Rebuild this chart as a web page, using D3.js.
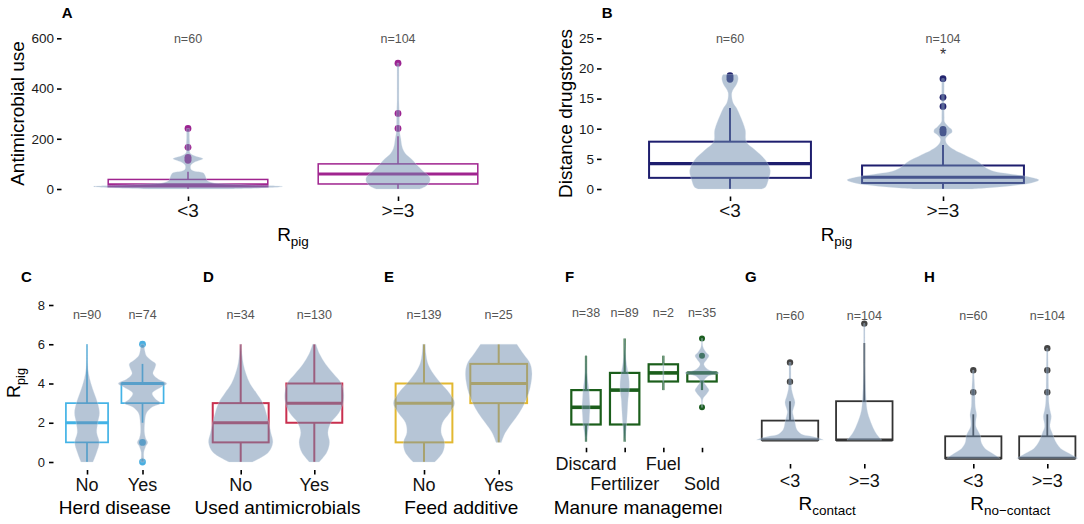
<!DOCTYPE html>
<html><head><meta charset="utf-8">
<script src="https://cdn.jsdelivr.net/npm/d3@7"></script>
<style>
body{margin:0;background:#fff}
svg{display:block}
text{font-family:"Liberation Sans",Arial,Helvetica,sans-serif}
</style>
</head><body>
<svg id="chart" width="1084" height="524"></svg>
<script>
// ================= DATA =================
const rpigGroups = ["<3", ">=3"];

// A: Antimicrobial use by Rpig
const amuCounts = [60, 104];
const amuBox = [[0, 9, 17, 38, 69], [0, 20, 60, 100, 210]];      // [lower whisker, Q1, median, Q3, upper whisker]
const amuOutliers = [[114, 120, 126, 166, 241], [241, 301, 501]];
const amuTicks = [0, 200, 400, 600];
const amuViolin = [
  [[0,0.42],[5,0.84],[10,1],[15,0.74],[20,0.42],[25,0.26],[35,0.2],[45,0.19],[55,0.18],[65,0.16],[72,0.06],[80,0.03],[95,0.03],[105,0.06],[115,0.13],[120,0.16],[125,0.13],[135,0.05],[145,0.02],[170,0.02],[200,0.015],[241,0.015]],
  [[0,0.23],[10,0.29],[25,0.33],[40,0.34],[55,0.32],[70,0.27],[85,0.23],[100,0.19],[120,0.14],[140,0.08],[160,0.05],[180,0.037],[200,0.03],[220,0.02],[250,0.016],[300,0.014],[350,0.01],[400,0.01],[450,0.01],[501,0.01]]
];

// B: Distance drugstores by Rpig
const distCounts = [60, 104];
const distBox = [[0, 1.85, 4.2, 7.85, 13.45], [0, 1.0, 1.95, 3.9, 7.3]];
const distOutliers = [[18.2, 18.5, 18.8], [9.3, 9.6, 9.9, 13.7, 15.2, 18.3]];
const distTicks = [0, 5, 10, 15, 20, 25];
const distSignif = ["", "*"];
const distSignifAt = 22.8;
const distViolin = [
  [[0,0.33],[0.3,0.37],[1.5,0.4],[3.1,0.42],[4.8,0.37],[6.5,0.26],[7.85,0.17],[9.8,0.16],[12,0.11],[13.4,0.07],[14.3,0.033],[16,0.02],[17.4,0.07],[18.2,0.085],[18.8,0.08],[19,0.07]],
  [[0,0.3],[0.5,0.7],[1,0.92],[1.5,1],[2,0.9],[2.5,0.7],[3,0.52],[3.5,0.45],[4,0.41],[4.7,0.35],[5.3,0.27],[6,0.18],[6.4,0.13],[7,0.07],[7.5,0.04],[8.3,0.027],[9,0.06],[9.4,0.094],[9.9,0.09],[10.3,0.06],[11.1,0.017],[12,0.013],[18.3,0.013]]
];

// Bottom row: Rpig by factor
const rpigTicks = [0, 2, 4, 6, 8];
const yesNo = ["No", "Yes"];

// C: Herd disease
const herdCounts = [90, 74];
const herdBox = [[0, 1, 2, 3, 6], [2, 3, 4, 4, 5]];
const herdOutliers = [[], [0, 1, 6]];
const herdViolin = [
  [[0,0.24],[0.5,0.39],[1,0.49],[1.5,0.39],[2,0.43],[2.5,0.5],[3,0.43],[3.5,0.29],[4,0.16],[4.5,0.066],[5,0.026],[6,0.013]],
  [[0,0.066],[0.25,0.053],[0.5,0.053],[0.8,0.13],[1,0.21],[1.2,0.13],[1.5,0.08],[2,0.09],[2.5,0.16],[2.8,0.39],[3,0.72],[3.2,0.53],[3.5,0.39],[3.8,0.72],[4,0.97],[4.2,0.66],[4.5,0.42],[4.8,0.5],[5,0.53],[5.2,0.33],[5.4,0.16],[5.7,0.09],[6,0.066]]
];

// D: Used antimicrobials
const usedCounts = [34, 130];
const usedBox = [[0, 1, 2, 3, 6], [0, 2, 3, 4, 6]];
const usedOutliers = [[], []];
const usedViolin = [
  [[0,0.35],[0.5,0.84],[1,0.97],[1.5,0.91],[2,0.85],[2.5,0.77],[3,0.67],[3.5,0.48],[4,0.28],[4.5,0.16],[5,0.08],[5.5,0.04],[6,0.02]],
  [[0,0.15],[0.5,0.38],[1,0.46],[1.5,0.41],[2,0.5],[2.5,0.74],[3,0.87],[3.5,0.89],[4,0.82],[4.5,0.58],[5,0.34],[5.5,0.16],[6,0.05]]
];

// E: Feed additive
const feedCounts = [139, 25];
const feedBox = [[0, 1, 3, 4, 6], [1, 3, 4, 5, 6]];
const feedOutliers = [[], []];
const feedViolin = [
  [[0,0.32],[0.5,0.56],[1,0.61],[1.5,0.51],[2,0.55],[2.5,0.76],[3,0.91],[3.5,0.76],[4,0.51],[4.5,0.28],[5,0.12],[5.5,0.06],[6,0.04]],
  [[1,0.08],[1.5,0.2],[2,0.4],[2.5,0.61],[3,0.77],[3.5,0.89],[4,0.96],[4.5,0.99],[5,0.94],[5.5,0.74],[6,0.54]]
];

// F: Manure management
const manureCats = ["Discard", "Fertilizer", "Fuel", "Sold"];
const manureCounts = [38, 89, 2, 35];
const manureBox = [[0, 1, 2, 3, 5], [0, 1, 3, 4, 6], [3, 3.5, 4, 4.5, 5], [3, 3.5, 4, 4, 4]];
const manureOutliers = [[], [], [], [2, 5, 6]];
const manureViolin = [
  [[0,0.03],[0.5,0.09],[1,0.17],[1.5,0.2],[2,0.23],[2.5,0.2],[3,0.17],[3.5,0.11],[4,0.06],[4.5,0.04],[5,0.03]],
  [[0,0.03],[1,0.11],[2,0.17],[2.5,0.2],[3,0.26],[3.5,0.26],[4,0.2],[4.5,0.11],[5,0.06],[5.5,0.035],[6,0.023]],
  [[3,0.02],[4,0.03],[5,0.02]],
  [[2,0.03],[2.5,0.06],[2.8,0.29],[3,0.4],[3.2,0.29],[3.5,0.11],[3.8,0.34],[4,0.98],[4.2,0.34],[4.5,0.11],[4.8,0.29],[5,0.4],[5.2,0.23],[5.5,0.06],[6,0.03]]
];

// G: R contact
const contactCounts = [60, 104];
const contactBox = [[0, 0, 0, 1, 2], [0, 0, 0, 2, 5]];
const contactOutliers = [[3, 4], [6]];
const contactViolin = [
  [[0,1],[0.1,0.85],[0.2,0.6],[0.3,0.35],[0.56,0.2],[0.9,0.15],[1.13,0.12],[1.45,0.08],[1.6,0.1],[1.94,0.15],[2.26,0.1],[2.6,0.05],[2.85,0.04],[3.2,0.03],[4,0.03]],
  [[0,0.52],[0.3,0.37],[0.65,0.26],[1.13,0.15],[1.6,0.08],[2.26,0.05],[3.06,0.03],[4,0.02],[5,0.02],[6,0.02]]
];

// H: R no-contact
const nocontactCounts = [60, 104];
const nocontactBox = [[0, 0, 0, 1, 2], [0, 0, 0, 1, 2]];
const nocontactOutliers = [[3, 4], [3, 4, 5]];
const nocontactViolin = [
  [[0,0.8],[0.1,0.7],[0.23,0.57],[0.45,0.35],[0.68,0.25],[0.9,0.22],[1,0.22],[1.14,0.18],[1.44,0.08],[1.74,0.08],[1.97,0.1],[2.35,0.06],[3,0.05],[3.56,0.03],[4,0.02]],
  [[0,0.92],[0.1,0.8],[0.23,0.65],[0.45,0.4],[0.68,0.28],[0.9,0.21],[1.14,0.15],[1.44,0.08],[1.9,0.12],[2.2,0.08],[2.5,0.05],[3,0.04],[4,0.03],[5,0.02]]
];

// ================= DRAWING =================
const svg = d3.select("#chart");
const FONT = '"Liberation Sans",Arial,Helvetica,sans-serif';
const VIOLIN_FILL = "#6d8cad";

function drawPanel(p) {
  const g = svg.append("g");
  const x = d3.scalePoint().domain(p.cats).range([p.x0, p.x1]);
  const step = (p.x1 - p.x0) / (p.cats.length - 1);
  const y = d3.scaleLinear().domain(p.yDomain).range(p.yRange);
  const bw = 0.38 * step;
  const vw = d3.scaleLinear().domain([0, 1]).range([0, 0.45 * step]);

  // y axis
  if (p.yTicks) {
    const ax = g.append("g").attr("transform", `translate(${p.axisX},0)`)
      .call(d3.axisLeft(y).tickValues(p.yTicks).tickSize(4.5).tickPadding(p.tickPad || 3));
    ax.select(".domain").remove();
    ax.selectAll(".tick line").attr("stroke", "#000").attr("stroke-width", 1.6);
    ax.selectAll(".tick text").attr("font-family", FONT).attr("font-size", p.yTickSize)
      .attr("fill", "#1a1a1a");
  }
  // x axis ticks
  const axx = g.append("g").attr("transform", `translate(0,${p.xAxisY})`)
    .call(d3.axisBottom(x).tickSize(4.5).tickFormat(""));
  axx.select(".domain").remove();
  axx.selectAll(".tick line").attr("stroke", "#000").attr("stroke-width", 1.6);

  // x tick labels (optionally dodged in rows)
  p.cats.forEach((c, i) => {
    const row = p.labelRows ? p.labelRows[i % p.labelRows.length] : p.labelY;
    g.append("text").attr("x", x(c)).attr("y", row).attr("text-anchor", "middle")
      .attr("font-size", p.xTickSize).attr("fill", "#111").text(c);
  });

  // boxplots
  p.cats.forEach((c, i) => {
    const [lo, q1, med, q3, hi] = p.box[i];
    const cx = x(c);
    const bg = g.append("g").attr("stroke", p.color).attr("fill", "none");
    bg.append("line").attr("x1", cx).attr("x2", cx).attr("y1", y(q3)).attr("y2", y(hi)).attr("stroke-width", p.lw);
    bg.append("line").attr("x1", cx).attr("x2", cx).attr("y1", y(q1)).attr("y2", y(lo)).attr("stroke-width", p.lw);
    bg.append("rect").attr("x", cx - bw).attr("width", 2 * bw)
      .attr("y", y(q3)).attr("height", Math.max(0, y(q1) - y(q3))).attr("stroke-width", p.lw);
    bg.append("line").attr("x1", cx - bw).attr("x2", cx + bw).attr("y1", y(med)).attr("y2", y(med)).attr("stroke-width", p.mlw);
    g.selectAll(null).data(p.out[i]).enter().append("circle")
      .attr("cx", cx).attr("cy", d => y(d)).attr("r", p.r).attr("fill", p.pointColor);
  });

  // violins drawn on top, translucent
  p.cats.forEach((c, i) => {
    const cx = x(c);
    const area = d3.area().curve(d3.curveCatmullRom.alpha(0.5))
      .y(d => y(d[0])).x0(d => cx - vw(d[1])).x1(d => cx + vw(d[1]));
    g.append("path").attr("d", area(p.violin[i])).attr("fill", VIOLIN_FILL)
      .attr("fill-opacity", 0.5).attr("stroke", "#dbe4ee").attr("stroke-width", 0.5).attr("stroke-opacity", 0.6);
  });

  // n labels
  p.cats.forEach((c, i) => {
    g.append("text").attr("x", x(c)).attr("y", y(p.nAt)).attr("dy", "0.36em")
      .attr("text-anchor", "middle").attr("font-size", 12.5).attr("fill", "#555")
      .text("n=" + p.counts[i]);
  });
  if (p.signif) {
    p.cats.forEach((c, i) => {
      if (p.signif[i]) g.append("text").attr("x", x(c)).attr("y", y(p.signifAt) + 8.5)
        .attr("text-anchor", "middle").attr("font-size", 16).attr("fill", "#333").text(p.signif[i]);
    });
  }

  // x title
  const tg = p.clipRight ? g.append("g").attr("clip-path", `url(#${p.letter}clip)`) : g;
  if (p.clipRight) {
    svg.append("clipPath").attr("id", p.letter + "clip").append("rect")
      .attr("x", p.x0 - 60).attr("y", 0).attr("width", p.clipRight - (p.x0 - 60)).attr("height", 524);
  }
  const xt = tg.append("text").attr("x", (p.x0 + p.x1) / 2).attr("y", p.titleY)
    .attr("text-anchor", "middle").attr("font-size", 19).attr("fill", "#000");
  xt.append("tspan").text(p.xTitle[0]);
  if (p.xTitle[1]) xt.append("tspan").attr("dy", 5).attr("font-size", 13.5).text(p.xTitle[1]);

  // y title
  if (p.yTitle) {
    const yt = g.append("text").attr("transform", `translate(${p.yTitleX},${p.yTitleY}) rotate(-90)`)
      .attr("text-anchor", "middle").attr("font-size", p.yTitleSize).attr("fill", "#000");
    yt.append("tspan").text(p.yTitle[0]);
    if (p.yTitle[1]) yt.append("tspan").attr("dy", 4.5).attr("font-size", p.yTitleSize * 0.7).text(p.yTitle[1]);
  }

  // panel letter
  g.append("text").attr("x", p.letterX).attr("y", p.letterY).attr("font-size", 15)
    .attr("font-weight", "bold").attr("fill", "#000").text(p.letter);
}

const topCommon = {
  yRange: [189, 38.3], xAxisY: 196.5, labelY: 216.8, xTickSize: 19, yTickSize: 13.5,
  titleY: 240.7, lw: 1.5, mlw: 3, r: 3.4, yTitleSize: 19, yTitleY: 113.5, letterY: 18.3
};
const botCommon = {
  yDomain: [0, 8], yRange: [462, 305], xAxisY: 470, labelY: 490.5, xTickSize: 18, yTickSize: 13,
  titleY: 513.5, lw: 1.7, mlw: 3, r: 3.4, nAt: 7.5, letterY: 281.5
};

drawPanel(Object.assign({}, topCommon, {
  letter: "A", letterX: 61.7, cats: rpigGroups, x0: 188, x1: 398,
  yDomain: [0, 600], yTicks: amuTicks, axisX: 61.5,
  box: amuBox, out: amuOutliers, violin: amuViolin, counts: amuCounts, nAt: 600,
  color: "#a0248f", pointColor: "#9b2391",
  xTitle: ["R", "pig"], yTitle: ["Antimicrobial use"], yTitleX: 24
}));
drawPanel(Object.assign({}, topCommon, {
  letter: "B", letterX: 601.7, cats: rpigGroups, x0: 730, x1: 943,
  yDomain: [0, 25], yTicks: distTicks, axisX: 601.5,
  box: distBox, out: distOutliers, violin: distViolin, counts: distCounts, nAt: 25,
  signif: distSignif, signifAt: distSignifAt, lw: 2, mlw: 3.2,
  color: "#1e1e6e", pointColor: "#22246e",
  xTitle: ["R", "pig"], yTitle: ["Distance drugstores"], yTitleX: 572
}));
drawPanel(Object.assign({}, botCommon, {
  letter: "C", letterX: 21, cats: yesNo, x0: 87, x1: 142.5,
  yTicks: rpigTicks, axisX: 53.5, tickPad: 4,
  box: herdBox, out: herdOutliers, violin: herdViolin, counts: herdCounts,
  color: "#43b3e6", pointColor: "#4aaee0",
  xTitle: ["Herd disease"], yTitle: ["R", "pig"], yTitleX: 20, yTitleY: 383, yTitleSize: 18
}));
drawPanel(Object.assign({}, botCommon, {
  letter: "D", letterX: 203, cats: yesNo, x0: 240.7, x1: 314.3,
  box: usedBox, out: usedOutliers, violin: usedViolin, counts: usedCounts,
  color: "#c9304f", pointColor: "#c9304f", lw: 2,
  xTitle: ["Used antimicrobials"]
}));
drawPanel(Object.assign({}, botCommon, {
  letter: "E", letterX: 384, cats: yesNo, x0: 424, x1: 498.7,
  box: feedBox, out: feedOutliers, violin: feedViolin, counts: feedCounts,
  color: "#e2b831", pointColor: "#e2b831", lw: 2,
  xTitle: ["Feed additive"]
}));
drawPanel(Object.assign({}, botCommon, {
  letter: "F", letterX: 565, cats: manureCats, x0: 586, x1: 702,
  yRange: [441.7, 304.1], xAxisY: 447.8, labelRows: [469.5, 490],
  box: manureBox, out: manureOutliers, violin: manureViolin, counts: manureCounts,
  color: "#1b5e1b", pointColor: "#1b5e20", lw: 2.2, mlw: 3.6, r: 3,
  xTitle: ["Manure management"], clipRight: 721.5
}));
drawPanel(Object.assign({}, botCommon, {
  letter: "G", letterX: 745, cats: rpigGroups, x0: 790, x1: 864.3,
  yDomain: [0, 6], yRange: [440, 323.6], xAxisY: 464, labelY: 486.5, nAt: 6.44,
  box: contactBox, out: contactOutliers, violin: contactViolin, counts: contactCounts,
  color: "#333333", pointColor: "#444", lw: 1.8, mlw: 3, r: 3.2, titleY: 510,
  xTitle: ["R", "contact"]
}));
drawPanel(Object.assign({}, botCommon, {
  letter: "H", letterX: 924, cats: rpigGroups, x0: 973.3, x1: 1047.3,
  yDomain: [0, 5], yRange: [458.3, 348.3], xAxisY: 464, labelY: 486.5, nAt: 6.47,
  box: nocontactBox, out: nocontactOutliers, violin: nocontactViolin, counts: nocontactCounts,
  color: "#333333", pointColor: "#444", lw: 1.8, mlw: 3, r: 3.2, titleY: 510,
  xTitle: ["R", "no\u2212contact"]
}));
</script>
</body></html>
